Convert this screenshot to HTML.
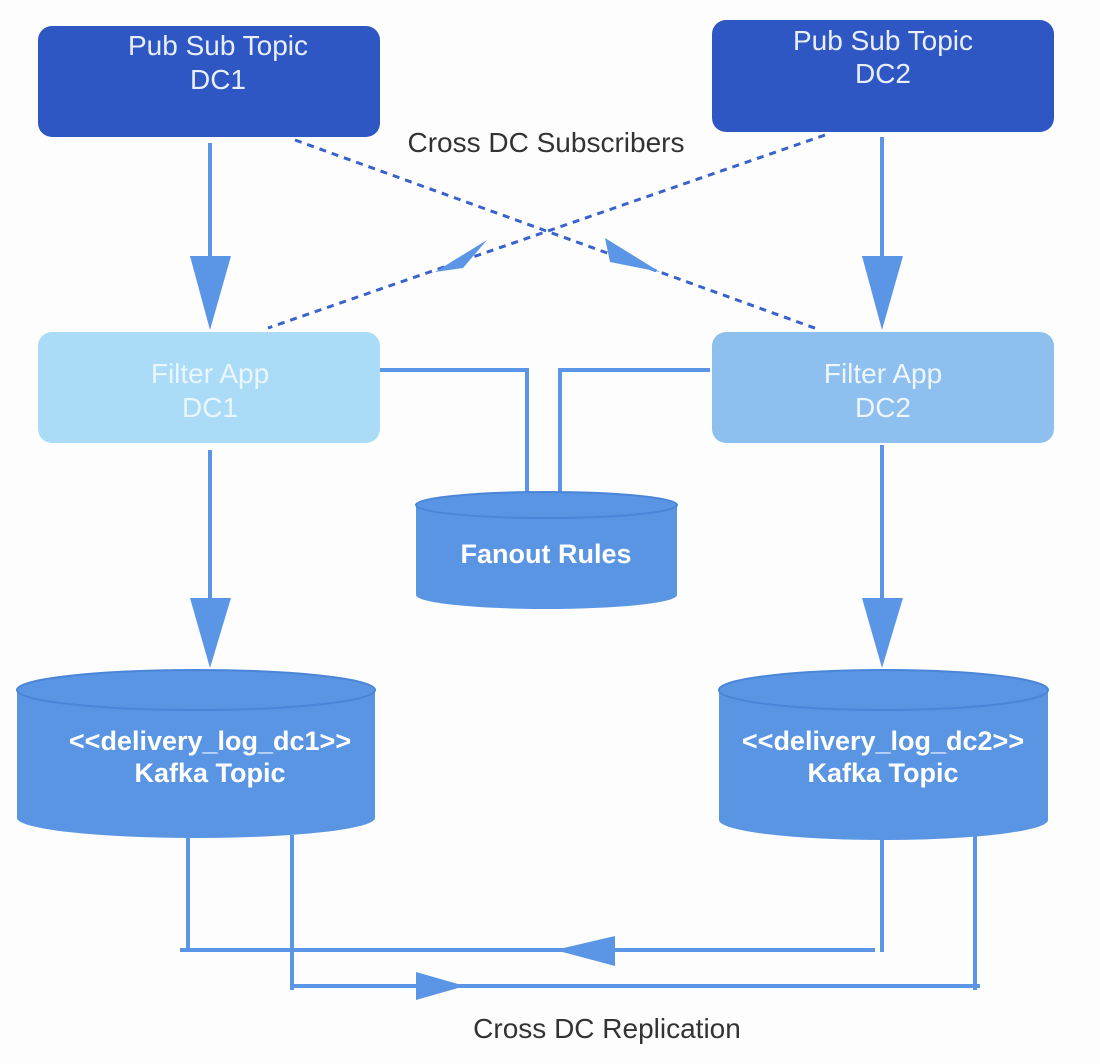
<!DOCTYPE html>
<html><head><meta charset="utf-8"><style>
html,body{margin:0;padding:0;background:#fdfdfd;}
svg{display:block;font-family:"Liberation Sans",sans-serif;}
</style></head><body>
<svg width="1100" height="1064" viewBox="0 0 1100 1064">
<rect width="1100" height="1064" fill="#fdfdfd"/>
<rect x="38" y="26" width="342" height="111" rx="14" fill="#2f57c3"/>
<text x="218" y="55" font-size="28" fill="#e8eefc" text-anchor="middle">Pub Sub Topic</text>
<text x="218" y="89" font-size="28" fill="#e8eefc" text-anchor="middle">DC1</text>
<rect x="712" y="20" width="342" height="112" rx="14" fill="#2f57c3"/>
<text x="883" y="50" font-size="28" fill="#e8eefc" text-anchor="middle">Pub Sub Topic</text>
<text x="883" y="83" font-size="28" fill="#e8eefc" text-anchor="middle">DC2</text>
<text x="546" y="152" font-size="28" fill="#333" text-anchor="middle">Cross DC Subscribers</text>
<g stroke="#5b96e6" stroke-width="4" fill="none">
<line x1="210" y1="143" x2="210" y2="258"/>
<line x1="882" y1="137" x2="882" y2="258"/>
<line x1="210" y1="450" x2="210" y2="600"/>
<line x1="882" y1="445" x2="882" y2="600"/>
<polyline points="380,370 527,370 527,492"/>
<polyline points="710,370 560,370 560,492"/>
<polyline points="188,838 188,950"/>
<polyline points="180,950 875,950"/>
<polyline points="882,838 882,952"/>
<polyline points="292,835 292,990"/>
<polyline points="290,986 980,986"/>
<polyline points="975,835 975,990"/>
</g>
<g fill="#5b96e6">
<polygon points="190,256 231,256 210,330"/>
<polygon points="862,256 903,256 882,330"/>
<polygon points="190,598 231,598 210,668"/>
<polygon points="862,598 903,598 882,668"/>
<polygon points="615,936 615,966 555,950"/>
<polygon points="416,972 416,1000 465,986"/>
</g>
<g stroke="#3a62cc" stroke-width="3" stroke-dasharray="7,6" fill="none">
<line x1="295" y1="140" x2="820" y2="330"/>
<line x1="825" y1="135" x2="268" y2="328"/>
</g>
<polygon points="605,238 660,272 610,262" fill="#5b96e6"/>
<polygon points="487,240 435,272 463,268" fill="#5b96e6"/>
<rect x="38" y="332" width="342" height="111" rx="14" fill="#abdcf7"/>
<text x="210" y="383" font-size="28" fill="#eaf6fd" text-anchor="middle">Filter App</text>
<text x="210" y="417" font-size="28" fill="#eaf6fd" text-anchor="middle">DC1</text>
<rect x="712" y="332" width="342" height="111" rx="14" fill="#8ec0ef"/>
<text x="883" y="383" font-size="28" fill="#eef5fd" text-anchor="middle">Filter App</text>
<text x="883" y="417" font-size="28" fill="#eef5fd" text-anchor="middle">DC2</text>
<path d="M416,505 L416,595 A130.5,14 0 0 0 677,595 L677,505 Z" fill="#5a95e3"/>
<ellipse cx="546.5" cy="505" rx="130.5" ry="13" fill="#5a95e3" stroke="#4a85d8" stroke-width="2"/>
<text x="546" y="563" font-size="27" font-weight="bold" fill="#fff" text-anchor="middle">Fanout Rules</text>
<path d="M17,690 L17,818 A179,20 0 0 0 375,818 L375,690 Z" fill="#5a95e3"/>
<ellipse cx="196" cy="690" rx="179" ry="20" fill="#5a95e3" stroke="#4a85d8" stroke-width="2"/>
<text x="210" y="750" font-size="27" font-weight="bold" fill="#fff" text-anchor="middle">&lt;&lt;delivery_log_dc1&gt;&gt;</text>
<text x="210" y="782" font-size="27" font-weight="bold" fill="#fff" text-anchor="middle">Kafka Topic</text>
<path d="M719,690 L719,820 A164.5,20 0 0 0 1048,820 L1048,690 Z" fill="#5a95e3"/>
<ellipse cx="883.5" cy="690" rx="164.5" ry="20" fill="#5a95e3" stroke="#4a85d8" stroke-width="2"/>
<text x="883" y="750" font-size="27" font-weight="bold" fill="#fff" text-anchor="middle">&lt;&lt;delivery_log_dc2&gt;&gt;</text>
<text x="883" y="782" font-size="27" font-weight="bold" fill="#fff" text-anchor="middle">Kafka Topic</text>
<text x="607" y="1038" font-size="28" fill="#333" text-anchor="middle">Cross DC Replication</text>
</svg>
</body></html>
